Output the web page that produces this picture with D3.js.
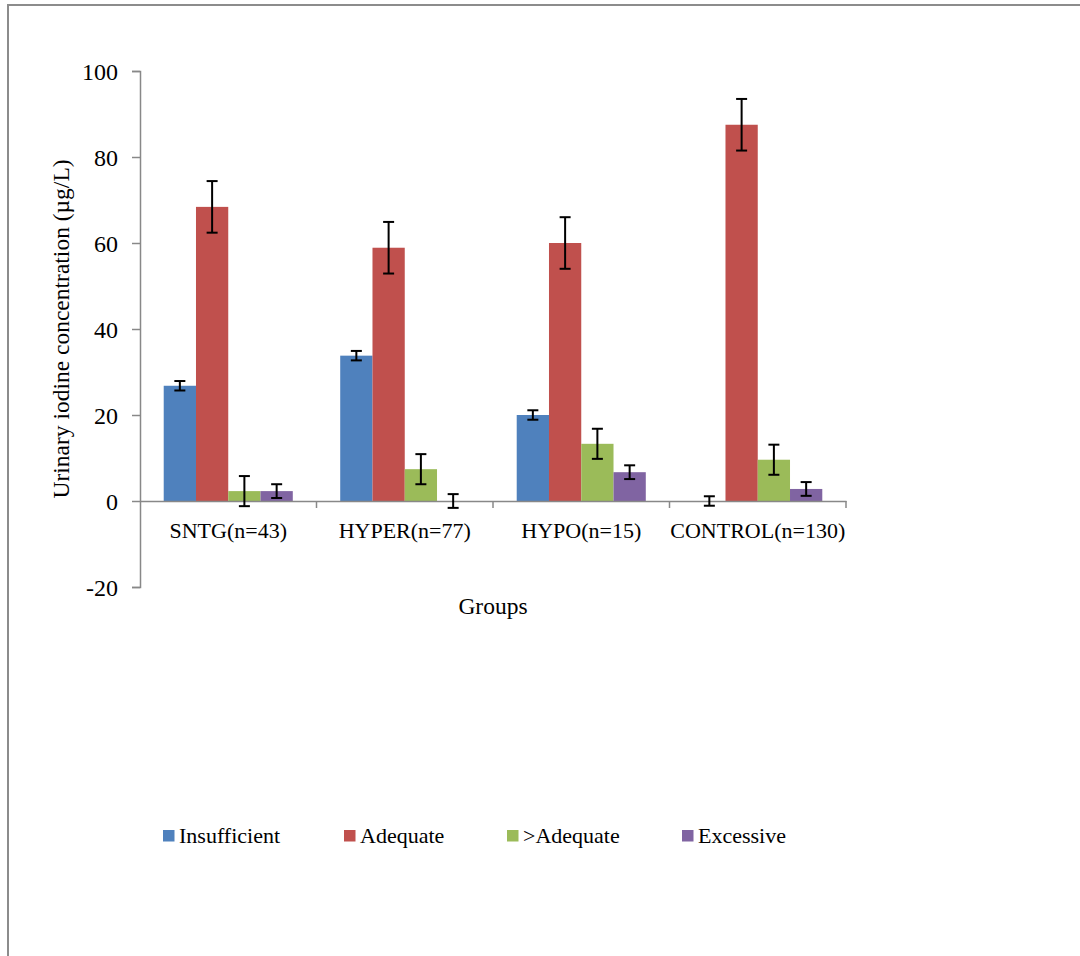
<!DOCTYPE html>
<html>
<head>
<meta charset="utf-8">
<script src="https://cdn.jsdelivr.net/npm/d3@7"></script>
<style>
  html, body { margin: 0; padding: 0; background: #fff; }
  svg { display: block; font-family: "Liberation Serif", "Times New Roman", serif; }
</style>
</head>
<body>
<svg id="chart" width="1080" height="956"></svg>
<script>
// ---- data ----
const groups = ["SNTG(n=43)", "HYPER(n=77)", "HYPO(n=15)", "CONTROL(n=130)"];
const seriesNames = ["Insufficient", "Adequate", ">Adequate", "Excessive"];
const seriesColors = ["#4F81BD", "#C0504D", "#9BBB59", "#8064A2"];
const insufficient = [26.8, 33.8, 20.0, 0];
const adequate = [68.4, 58.9, 60.0, 87.5];
const aboveAdequate = [2.3, 7.4, 13.3, 9.6];
const excessive = [2.3, 0, 6.7, 2.8];
const errInsufficient = [1.1, 1.1, 1.1, 1.1];
const errAdequate = [6.0, 6.0, 6.0, 6.0];
const errAboveAdequate = [3.5, 3.5, 3.5, 3.5];
const errExcessive = [1.6, 1.6, 1.6, 1.6];
const yTicks = [-20, 0, 20, 40, 60, 80, 100];
const yTitle = "Urinary iodine concentration (\u00b5g/L)";
const xTitle = "Groups";

const seriesValues = [insufficient, adequate, aboveAdequate, excessive];
const seriesErrors = [errInsufficient, errAdequate, errAboveAdequate, errExcessive];

const svg = d3.select("#chart");
const axisColor = "#888888";

// frame
svg.append("rect")
  .attr("x", 8).attr("y", 5).attr("width", 1100).attr("height", 1000)
  .attr("fill", "none").attr("stroke", "#8c8c8c").attr("stroke-width", 2);

const plotL = 140, plotR = 846, plotT = 71, plotB = 587;
const y = d3.scaleLinear().domain([-20, 100]).range([plotB, plotT]);
const x0 = d3.scaleBand().domain(groups).range([plotL, plotR]).paddingInner(0).paddingOuter(0);
const x1 = d3.scaleBand().domain(seriesNames).range([0, x0.bandwidth()]).paddingInner(0).paddingOuter(0.735);

// bars
const data = [];
groups.forEach((g, gi) => {
  seriesNames.forEach((s, si) => {
    data.push({g, s, si, v: seriesValues[si][gi], e: seriesErrors[si][gi]});
  });
});

svg.append("g").selectAll("rect").data(data).join("rect")
  .attr("x", d => x0(d.g) + x1(d.s))
  .attr("width", x1.bandwidth())
  .attr("y", d => y(Math.max(0, d.v)))
  .attr("height", d => Math.abs(y(d.v) - y(0)))
  .attr("fill", d => seriesColors[d.si]);

// y axis
const yAxis = d3.axisLeft(y).tickValues(yTicks).tickSize(8).tickSizeOuter(8).tickFormat(d => d < 0 ? "-" + Math.abs(d) : d);
const gy = svg.append("g").attr("transform", `translate(${plotL},0)`).call(yAxis);
gy.select(".domain").attr("stroke", axisColor).attr("stroke-width", 1.5);
gy.selectAll(".tick line").attr("stroke", axisColor).attr("stroke-width", 1.5);
gy.selectAll(".tick text").attr("x", -22).attr("dy", "0.35em")
  .attr("font-size", 24).attr("fill", "#000")
  .attr("font-family", "Liberation Serif, Times New Roman, serif");

// x axis at y=0
const xAxis = d3.axisBottom(x0).tickSize(0).tickSizeOuter(0).tickFormat("");
const gx = svg.append("g").attr("transform", `translate(0,${y(0)})`).call(xAxis);
gx.select(".domain").attr("stroke", axisColor).attr("stroke-width", 1.5);
const boundaries = groups.map(g => x0(g) + x0.bandwidth());
gx.selectAll("line.bt").data(boundaries).join("line").attr("class", "bt")
  .attr("x1", d => d).attr("x2", d => d).attr("y1", 0).attr("y2", 7)
  .attr("stroke", axisColor).attr("stroke-width", 1.5);
// category labels
svg.append("g").selectAll("text").data(groups).join("text")
  .attr("x", d => x0(d) + x0.bandwidth() / 2)
  .attr("y", 538)
  .attr("text-anchor", "middle")
  .attr("font-size", 22)
  .attr("fill", "#000")
  .text(d => d);

// error bars
const eg = svg.append("g").attr("stroke", "#000").attr("stroke-width", 2);
data.forEach(d => {
  const cx = x0(d.g) + x1(d.s) + x1.bandwidth() / 2;
  const yTop = y(d.v + d.e), yBot = y(d.v - d.e);
  eg.append("line").attr("x1", cx).attr("x2", cx).attr("y1", yTop).attr("y2", yBot);
  eg.append("line").attr("x1", cx - 5.5).attr("x2", cx + 5.5).attr("y1", yTop).attr("y2", yTop);
  eg.append("line").attr("x1", cx - 5.5).attr("x2", cx + 5.5).attr("y1", yBot).attr("y2", yBot);
});

// axis titles
svg.append("text")
  .attr("transform", `translate(69,${329}) rotate(-90)`)
  .attr("text-anchor", "middle")
  .attr("font-size", 23.5)
  .attr("fill", "#000")
  .text(yTitle);

svg.append("text")
  .attr("x", (plotL + plotR) / 2)
  .attr("y", 614)
  .attr("text-anchor", "middle")
  .attr("font-size", 23.5)
  .attr("fill", "#000")
  .text(xTitle);

// legend
const legendX = [163, 344, 507, 682];
const lg = svg.append("g");
seriesNames.forEach((s, i) => {
  lg.append("rect").attr("x", legendX[i]).attr("y", 830).attr("width", 11.5).attr("height", 11.5)
    .attr("fill", seriesColors[i]);
  lg.append("text").attr("x", legendX[i] + 16).attr("y", 843)
    .attr("font-size", 22).attr("fill", "#000").text(s);
});
</script>
</body>
</html>
